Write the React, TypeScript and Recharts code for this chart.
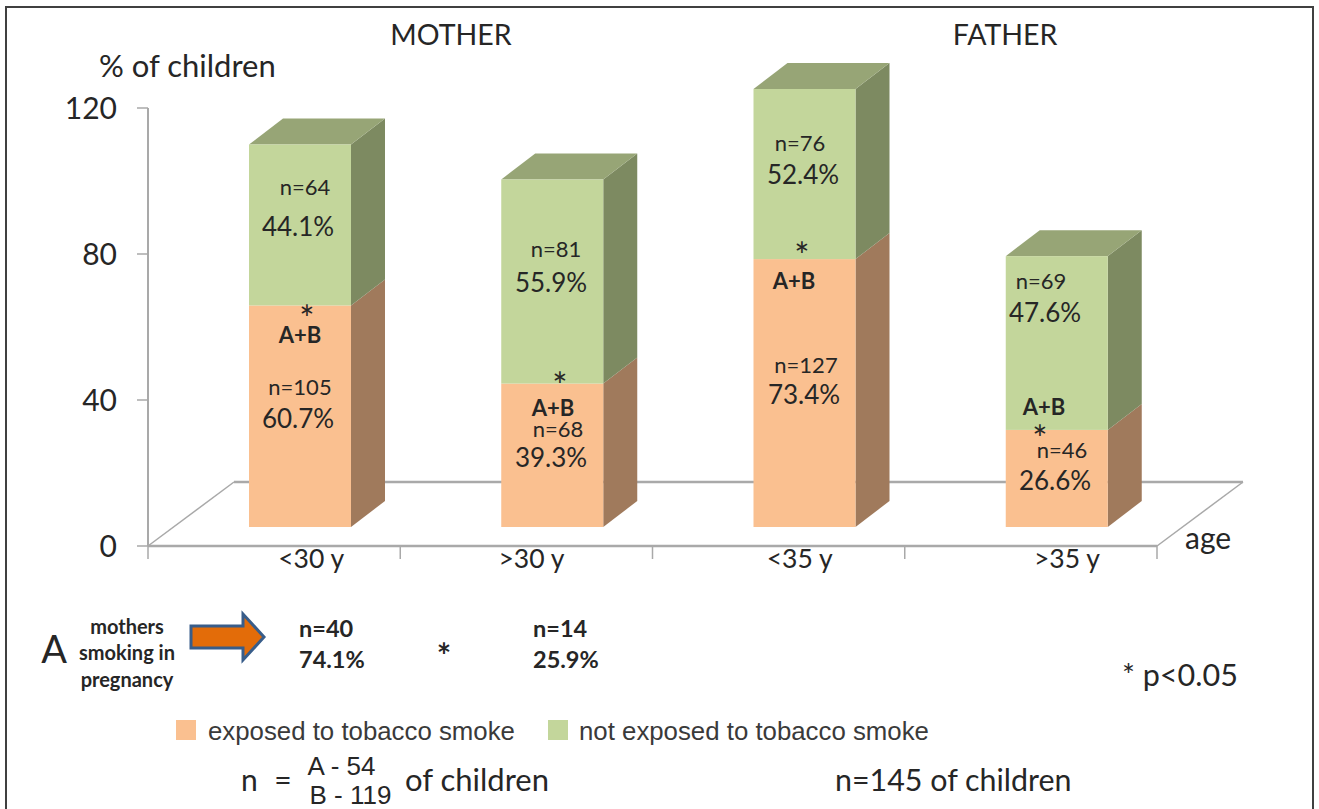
import React from "react";
import { BarChart, Bar, XAxis, YAxis, Legend } from "recharts";

// ---- data ----
const categories = ["<30 y", ">30 y", "<35 y", ">35 y"];
const exposedPct = [60.7, 39.3, 73.4, 26.6];
const notExposedPct = [44.1, 55.9, 52.4, 47.6];
const exposedN = ["n=105", "n=68", "n=127", "n=46"];
const notExposedN = ["n=64", "n=81", "n=76", "n=69"];
const yTicks = [0, 40, 80, 120];
const AXIS_MAX = 120;
const EXPOSED_NAME = "exposed to tobacco smoke";
const NOT_EXPOSED_NAME = "not exposed to tobacco smoke";

// the picture cuts the column at the top of the axis
const table = categories.map((c, i) => ({
  cat: c,
  exposed: exposedPct[i],
  notExposed: Math.min(notExposedPct[i], AXIS_MAX - exposedPct[i]),
}));

// ---- layout ----
const W = 1319;
const H = 809;
const FONT = "Lato, 'Open Sans', sans-serif";
const ARIAL = "'Liberation Sans', Arial, sans-serif";
const INK = "#262626";
const AXIS = "#a9a9a9";
const PLOT = { left: 148, right: 1157, top: 108, bottom: 546 };
const BAND = (PLOT.right - PLOT.left) / categories.length;
const FLOOR = { dx: 26, dy: -19 };
const DEPTH = { dx: 34, dy: -26 };
const FLOOR_BACK = { dx: 86, dy: -64 };
const xLabelNudge = [37, 5, 21, 36];

const nPos = [
  [[300, 386], [305, 186]],
  [[558, 428], [556, 248]],
  [[806, 364], [800, 142]],
  [[1062, 449], [1041, 280]],
];
const pctPos = [
  [[298, 418], [298, 226]],
  [[551, 457], [551, 282]],
  [[804, 394], [803, 174]],
  [[1055, 480], [1045, 312]],
];
const abPos = [[300, 334], [553, 407], [794, 280], [1044, 406]];
const starPos = [[307, 318], [560, 385], [802, 255], [1040, 438]];

const palette = {
  exposed: { front: "#fac090", side: "#a07a5c", top: "#b8906c" },
  notExposed: { front: "#c3d69b", side: "#7d8a61", top: "#97a576" },
};

function Box3D(props: any) {
  const { x, y, width, height, colors, withTop } = props;
  const l = x + FLOOR.dx;
  const r = l + width;
  const t = y + FLOOR.dy;
  const b = t + height;
  const { dx, dy } = DEPTH;
  return (
    <g>
      <polygon
        points={`${r},${t} ${r + dx},${t + dy} ${r + dx},${b + dy} ${r},${b}`}
        fill={colors.side}
      />
      {withTop && (
        <polygon
          points={`${l},${t} ${l + dx},${t + dy} ${r + dx},${t + dy} ${r},${t}`}
          fill={colors.top}
        />
      )}
      <rect x={l} y={t} width={width} height={height} fill={colors.front} />
    </g>
  );
}

function XTick(props: any) {
  const { x, payload, index } = props;
  const right = x + BAND / 2;
  const left = x - BAND / 2;
  return (
    <g>
      {index === 0 && <line x1={left} x2={left} y1={PLOT.bottom} y2={PLOT.bottom + 13} stroke={AXIS} strokeWidth={1.5} />}
      <line x1={right} x2={right} y1={PLOT.bottom} y2={PLOT.bottom + 13} stroke={AXIS} strokeWidth={1.5} />
      <text
        x={x + xLabelNudge[index]}
        y={PLOT.bottom + 12}
        textAnchor="middle"
        dominantBaseline="central"
        fontFamily={FONT}
        fontSize={26.5}
        fill={INK}
      >
        {payload.value}
      </text>
    </g>
  );
}

function LegendRow(props: any) {
  const items = props.payload || [];
  const xs = [176, 548];
  const textX = [208, 579];
  return (
    <div style={{ position: "relative", width: 800, height: 30 }}>
      {items.map((it: any, i: number) => (
        <React.Fragment key={it.value}>
          <div style={{ position: "absolute", left: xs[i] - 176, top: 0, width: 20, height: 20, background: it.color }} />
          <div
            style={{
              position: "absolute",
              left: textX[i] - 176,
              top: -2,
              fontFamily: ARIAL,
              fontSize: 25.8,
              lineHeight: "26px",
              whiteSpace: "nowrap",
              color: "#3a3a3a",
            }}
          >
            {it.value}
          </div>
        </React.Fragment>
      ))}
    </div>
  );
}

function T(props: any) {
  const { x, y, size = 24, bold, anchor = "middle", font = FONT, children } = props;
  return (
    <text
      x={x}
      y={y}
      fontFamily={font}
      fontSize={size}
      fontWeight={bold ? 700 : 400}
      textAnchor={anchor}
      dominantBaseline="central"
      fill={INK}
    >
      {children}
    </text>
  );
}

export default function App() {
  const abs: React.CSSProperties = { position: "absolute", left: 0, top: 0 };
  const backY = PLOT.bottom + FLOOR_BACK.dy;
  return (
    <div style={{ position: "fixed", left: 0, top: 0, width: W, height: H, background: "#fff", overflow: "hidden" }}>
      {/* floor of the 3D plot, behind the columns */}
      <svg width={W} height={H} style={abs}>
        <line x1={PLOT.left} y1={PLOT.bottom} x2={PLOT.left + FLOOR_BACK.dx} y2={backY} stroke={AXIS} strokeWidth={1.5} />
        <line x1={PLOT.right} y1={PLOT.bottom} x2={PLOT.right + FLOOR_BACK.dx} y2={backY} stroke={AXIS} strokeWidth={1.5} />
        <line x1={PLOT.left + FLOOR_BACK.dx} y1={backY} x2={PLOT.right + FLOOR_BACK.dx} y2={backY} stroke={AXIS} strokeWidth={2.5} />
      </svg>

      <div style={abs}>
        <BarChart
          width={W}
          height={H}
          data={table}
          barSize={102}
          margin={{ left: 48, right: W - PLOT.right, top: PLOT.top, bottom: 203 }}
        >
          <XAxis
            dataKey="cat"
            height={30}
            tickLine={false}
            axisLine={{ stroke: AXIS, strokeWidth: 2.5 }}
            tick={<XTick />}
            interval={0}
          />
          <YAxis
            width={100}
            domain={[0, AXIS_MAX]}
            ticks={yTicks}
            tickSize={11}
            tickMargin={20}
            axisLine={{ stroke: AXIS, strokeWidth: 2 }}
            tickLine={{ stroke: AXIS, strokeWidth: 1.5 }}
            tick={{ fontSize: 30, fill: INK, fontFamily: FONT }}
          />
          <Legend
            content={<LegendRow />}
            wrapperStyle={{ position: "absolute", left: 176, top: 720, width: 800, bottom: "auto", right: "auto" }}
          />
          <Bar
            dataKey="exposed"
            name={EXPOSED_NAME}
            stackId="a"
            fill={palette.exposed.front}
            isAnimationActive={false}
            shape={(p: any) => <Box3D {...p} colors={palette.exposed} />}
          />
          <Bar
            dataKey="notExposed"
            name={NOT_EXPOSED_NAME}
            stackId="a"
            fill={palette.notExposed.front}
            isAnimationActive={false}
            shape={(p: any) => <Box3D {...p} colors={palette.notExposed} withTop />}
          />
        </BarChart>
      </div>

      {/* frame and text annotations */}
      <svg width={W} height={H} style={{ ...abs, pointerEvents: "none" }}>
        <polyline points={`6,${H} 6,7 1313,7 1313,${H}`} fill="none" stroke="#404040" strokeWidth={2} />

        <T x={451} y={34} size={28.5}>MOTHER</T>
        <T x={1005} y={34} size={28.5}>FATHER</T>
        <T x={99} y={65} size={31} anchor="start">% of children</T>
        <T x={1185} y={537} size={30} anchor="start">age</T>

        {categories.map((c, i) => (
          <g key={c}>
            <T x={nPos[i][0][0]} y={nPos[i][0][1]} size={22}>{exposedN[i]}</T>
            <T x={nPos[i][1][0]} y={nPos[i][1][1]} size={22}>{notExposedN[i]}</T>
            <T x={pctPos[i][0][0]} y={pctPos[i][0][1]} size={26}>{exposedPct[i].toFixed(1)}%</T>
            <T x={pctPos[i][1][0]} y={pctPos[i][1][1]} size={26}>{notExposedPct[i].toFixed(1)}%</T>
            <T x={abPos[i][0]} y={abPos[i][1]} size={22} bold>A+B</T>
            <T x={starPos[i][0]} y={starPos[i][1]} size={36}>*</T>
          </g>
        ))}

        <T x={54} y={648} size={38}>A</T>
        <T x={127} y={626} size={20} bold>mothers</T>
        <T x={127} y={652} size={20} bold>smoking in</T>
        <T x={127} y={679} size={20} bold>pregnancy</T>
        <polygon
          points="191,626 243,626 243,614 264,637 243,660 243,648 191,648"
          fill="#e36c09"
          stroke="#385d8a"
          strokeWidth={3}
        />
        <T x={299} y={628} size={23.5} bold anchor="start">n=40</T>
        <T x={299} y={659} size={23.5} bold anchor="start">74.1%</T>
        <T x={444} y={654} size={34} bold>*</T>
        <T x={533} y={628} size={23.5} bold anchor="start">n=14</T>
        <T x={533} y={659} size={23.5} bold anchor="start">25.9%</T>
        <T x={1122} y={674} size={30.5} anchor="start">* p&lt;0.05</T>

        <T x={241} y={779} size={30} anchor="start">n</T>
        <T x={283} y={779} size={30}>=</T>
        <T x={341.5} y={766} size={26} font={ARIAL}>A - 54</T>
        <T x={350.5} y={795} size={26} font={ARIAL}>B - 119</T>
        <T x={405} y={779} size={31} anchor="start">of children</T>
        <T x={835} y={779} size={30.4} anchor="start">n=145 of children</T>
      </svg>
    </div>
  );
}
